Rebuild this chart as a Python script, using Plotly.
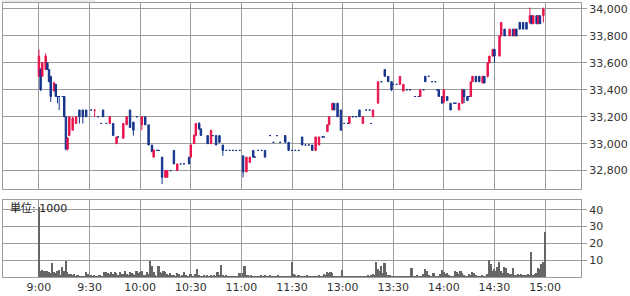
import plotly.graph_objects as go

# ---------------- data ----------------
# session minutes: 0 = 9:00, 150 = 11:30 / 12:30 (lunch removed), 300 = 15:00
tick_minutes = [0, 30, 60, 90, 120, 150, 180, 210, 240, 270, 300]
tick_labels = ["9:00", "9:30", "10:00", "10:30", "11:00", "11:30",
               "13:00", "13:30", "14:00", "14:30", "15:00"]
price_ticks = [32800, 33000, 33200, 33400, 33600, 33800, 34000]
volume_ticks = [10, 20, 30, 40]

candle_min = [
    0, 1, 2, 4, 5, 6, 7, 9, 10, 11,
    12, 15, 16, 17, 18, 20, 22, 24, 26, 28,
    33, 38, 42, 44, 46, 50, 52, 54, 56, 61,
    63, 65, 67, 68, 73, 75, 76, 80, 82, 89,
    90, 92, 93, 95, 96, 100, 102, 105, 107, 109,
    121, 123, 125, 127, 134, 146, 148, 156, 162, 164,
    166, 171, 172, 174, 175, 177, 179, 184, 190, 192,
    198, 201, 205, 207, 209, 214, 216, 226, 229, 237,
    239, 240, 242, 244, 249, 251, 252, 254, 256, 257,
    259, 261, 263, 264, 266, 267, 269, 270, 273, 274,
    276, 279, 281, 282, 283, 285, 287, 289, 291, 292,
    293, 295, 296, 297, 299]
candle_open = [
    33500, 33550, 33500, 33550, 33600, 33550, 33500, 33390, 33440, 33350,
    33350, 33350, 33200, 32960, 33060, 33100, 33150, 33250, 33250, 33250,
    33250, 33250, 33150, 33150, 33000, 33040, 33140, 33250, 33160, 33140,
    33200, 33140, 32990, 32900, 32900, 32750, 32750, 32950, 32800, 32900,
    32900, 33000, 33060, 33150, 33110, 33060, 33000, 33060, 33060, 32990,
    32910, 32790, 32860, 32950, 32950, 33060, 33010, 33050, 32990, 32950,
    32990, 33090, 33140, 33250, 33300, 33300, 33250, 33150, 33250, 33150,
    33200, 33300, 33550, 33500, 33460, 33440, 33390, 33350, 33500, 33400,
    33350, 33310, 33350, 33300, 33250, 33300, 33400, 33350, 33350, 33460,
    33500, 33500, 33450, 33500, 33500, 33600, 33650, 33700, 33650, 33800,
    33850, 33800, 33850, 33800, 33850, 33900, 33900, 33900, 33900, 33950,
    33890, 33950, 33890, 33950, 33950]
candle_high = [
    33700, 33560, 33600, 33670, 33600, 33550, 33500, 33460, 33440, 33350,
    33350, 33350, 33200, 33050, 33200, 33200, 33200, 33250, 33250, 33250,
    33250, 33250, 33200, 33150, 33050, 33150, 33200, 33250, 33160, 33200,
    33200, 33140, 32990, 32960, 32900, 32800, 32800, 32950, 32850, 32900,
    33000, 33070, 33150, 33160, 33110, 33060, 33100, 33060, 33060, 32990,
    32910, 32900, 32900, 32950, 32950, 33060, 33010, 33050, 32990, 33050,
    33050, 33140, 33200, 33300, 33300, 33300, 33250, 33200, 33250, 33200,
    33250, 33460, 33550, 33500, 33460, 33500, 33440, 33400, 33500, 33400,
    33350, 33400, 33350, 33300, 33300, 33400, 33400, 33350, 33460, 33500,
    33500, 33500, 33500, 33500, 33600, 33650, 33700, 33700, 33800, 33900,
    33850, 33850, 33850, 33850, 33850, 33900, 33900, 33900, 34010, 33950,
    33950, 33950, 33950, 33950, 34010]
candle_low = [
    33500, 33390, 33500, 33550, 33550, 33460, 33310, 33390, 33350, 33300,
    33250, 33200, 32950, 32950, 33060, 33100, 33150, 33150, 33150, 33200,
    33200, 33200, 33150, 33060, 33000, 33040, 33140, 33120, 33060, 33100,
    33140, 32990, 32940, 32900, 32700, 32750, 32750, 32850, 32800, 32850,
    32900, 33000, 33060, 33100, 33060, 33000, 33000, 32990, 33010, 32910,
    32750, 32790, 32860, 32900, 32900, 33010, 32950, 32990, 32950, 32950,
    32990, 33090, 33140, 33250, 33250, 33200, 33100, 33150, 33200, 33150,
    33200, 33300, 33500, 33460, 33390, 33440, 33390, 33350, 33460, 33350,
    33300, 33300, 33320, 33250, 33250, 33300, 33300, 33320, 33350, 33460,
    33460, 33460, 33450, 33450, 33490, 33600, 33650, 33600, 33650, 33800,
    33800, 33800, 33800, 33800, 33800, 33850, 33850, 33850, 33890, 33890,
    33890, 33890, 33890, 33890, 33900]
candle_close = [
    33650, 33400, 33600, 33650, 33550, 33460, 33350, 33450, 33350, 33350,
    33350, 33200, 32960, 33040, 33200, 33190, 33200, 33200, 33200, 33200,
    33250, 33200, 33200, 33060, 33050, 33150, 33200, 33120, 33100, 33200,
    33140, 32990, 32940, 32950, 32750, 32800, 32800, 32850, 32850, 32850,
    32990, 33060, 33150, 33110, 33060, 33000, 33100, 32990, 33010, 32950,
    32790, 32900, 32900, 32900, 32900, 33010, 32950, 32990, 32950, 33050,
    33050, 33140, 33200, 33300, 33250, 33200, 33100, 33200, 33200, 33200,
    33250, 33460, 33500, 33460, 33400, 33500, 33440, 33400, 33460, 33350,
    33300, 33400, 33320, 33250, 33300, 33400, 33350, 33320, 33460, 33500,
    33460, 33460, 33500, 33450, 33600, 33650, 33700, 33650, 33800, 33900,
    33800, 33850, 33800, 33850, 33800, 33850, 33850, 33850, 33950, 33890,
    33950, 33890, 33950, 33890, 34000]

# unchanged-price minutes (drawn as flat dashes)
doji_min = [
    14, 31, 35, 37, 40, 47, 58, 70, 71, 78,
    84, 86, 103, 111, 113, 115, 117, 119, 128, 130,
    132, 137, 139, 141, 143, 150, 152, 154, 158, 160,
    168, 169, 181, 183, 186, 188, 194, 196, 197, 203,
    210, 212, 218, 220, 223, 225, 228, 231, 233, 235,
    236, 246, 247, 255]
doji_price = [
    33350, 33250, 33200, 33150, 33150, 33050, 33200, 32950, 32950, 32800,
    32850, 32850, 33060, 32950, 32950, 32950, 32950, 32950, 32900, 32950,
    32950, 33060, 33010, 33060, 33010, 32950, 32950, 32950, 32990, 32990,
    33050, 33050, 33150, 33150, 33200, 33200, 33250, 33250, 33150, 33460,
    33440, 33440, 33400, 33400, 33350, 33350, 33400, 33500, 33460, 33460,
    33400, 33300, 33300, 33350]

# volume (unit: 1000), one value per minute 0..300
volume = [
    42, 4, 4.5, 4, 4, 3.5, 3, 2.5, 8.5, 3,
    2.5, 4, 4.5, 1.5, 6, 4, 9.5, 3, 2, 2,
    1.5, 2, 1, 1.5, 0.8, 0.5, 0.3, 0.5, 3, 2,
    1, 1.5, 1, 1.5, 1, 0.8, 1.2, 1, 0.5, 3,
    3, 2.5, 2, 3, 2, 3, 2.5, 1.5, 3, 2,
    2, 3.5, 2, 1.5, 3, 2.5, 2, 1.5, 3.5, 2.5,
    3, 4, 1.5, 1.5, 3, 2, 9.5, 7, 3, 1.5,
    1, 6.5, 3, 2.5, 3.5, 3, 2, 1.5, 2.5, 1.5,
    1.5, 1, 2.5, 2, 1, 1.5, 3, 1.5, 1, 0.5,
    2, 1, 1, 2, 5, 1.5, 1, 1, 1.5, 1,
    1.5, 1, 1.5, 1, 1.5, 1, 3, 1.5, 7.5, 1.5,
    1, 1.5, 1, 0.5, 0.5, 0.5, 0.5, 1, 1, 2.5,
    1, 2.5, 7, 1.5, 1.5, 1, 1.5, 0.5, 0.5, 0.5,
    0.5, 1, 1.5, 1, 1.5, 1, 1, 1.5, 1, 0.5,
    0.5, 1, 1.5, 1, 0.5, 1, 1, 0.5, 1, 1,
    9, 2, 1.5, 1, 1.5, 0.5, 1, 0.5, 1, 1.5,
    1, 0.5, 1, 1, 0.5, 1, 1.5, 1, 1, 2,
    1.5, 3, 2.5, 3, 2.5, 1, 0.5, 1, 1, 0.5,
    4.5, 1, 1, 0.5, 1, 0.5, 1, 0.5, 0.5, 1,
    1, 0.5, 1, 1, 0.5, 1.5, 1, 1.5, 2, 1.5,
    9, 5, 4, 6.5, 2.5, 8.5, 3, 1.5, 1.5, 1,
    1, 0.5, 1, 1, 0.5, 1, 0.5, 1, 1, 0.5,
    1, 5.5, 1, 1, 1.5, 1, 0.5, 1, 2, 5,
    3.5, 1.5, 1, 1, 2.5, 1, 1, 1, 2, 4.5,
    3, 2, 2.5, 1.5, 1, 1, 1, 3.5, 3, 2,
    3.5, 2.5, 1.5, 1, 1, 2, 1.5, 3, 2.5, 1.5,
    1, 1, 1, 1.5, 1, 0.5, 2, 10, 8, 4,
    5, 3.5, 6, 9, 4, 2.5, 6, 5.5, 2.5, 2,
    2, 5.5, 1.5, 1.5, 2, 1.5, 2, 1.5, 1.5, 1.5,
    2, 1.5, 15, 1.5, 2, 2.5, 5.5, 5, 8, 9,
    27]
volume_min = list(range(len(volume)))

# ---------------- style ----------------
RED = "#E8134B"
BLUE = "#14348C"
GRID = "#9c9c9c"
FONT = "DejaVu Sans, Noto Sans CJK JP, sans-serif"
X_RANGE = [-21.3, 321.3]

fig = go.Figure()

fig.add_trace(go.Candlestick(
    x=candle_min, open=candle_open, high=candle_high, low=candle_low, close=candle_close,
    xaxis="x", yaxis="y", whiskerwidth=0,
    increasing=dict(line=dict(color=RED, width=1), fillcolor=RED),
    decreasing=dict(line=dict(color=BLUE, width=1), fillcolor=BLUE),
    showlegend=False, hoverinfo="skip"))

fig.add_trace(go.Candlestick(
    x=doji_min, open=doji_price, high=doji_price, low=doji_price, close=doji_price,
    xaxis="x", yaxis="y", whiskerwidth=0,
    increasing=dict(line=dict(color=BLUE, width=1), fillcolor=BLUE),
    decreasing=dict(line=dict(color=BLUE, width=1), fillcolor=BLUE),
    showlegend=False, hoverinfo="skip"))

fig.add_trace(go.Bar(
    x=volume_min, y=volume, xaxis="x2", yaxis="y2", width=1,
    marker=dict(color="#666666", line=dict(width=0)),
    showlegend=False, hoverinfo="skip"))

axis_common = dict(showline=True, mirror=True, linecolor=GRID, linewidth=1,
                   showgrid=True, gridcolor=GRID, gridwidth=1, zeroline=False)

fig.update_layout(
    width=630, height=296,
    margin=dict(l=2, r=48, t=2, b=14),
    paper_bgcolor="white", plot_bgcolor="white",
    font=dict(family=FONT, size=11, color="#333333"),
    boxgap=0.15, boxgroupgap=0, bargap=0,
    xaxis=dict(domain=[0, 1], anchor="y", range=X_RANGE, tickvals=tick_minutes,
               showticklabels=False, ticks="", rangeslider=dict(visible=False),
               **axis_common),
    yaxis=dict(domain=[0.3214, 1], anchor="x", side="right", range=[32664, 34044],
               tickvals=price_ticks, tickformat=",d", ticks="outside", ticklen=5,
               tickcolor=GRID, **axis_common),
    xaxis2=dict(domain=[0, 1], anchor="y2", range=X_RANGE, tickvals=tick_minutes,
                ticktext=tick_labels, ticks="", **axis_common),
    yaxis2=dict(domain=[0, 0.2821], anchor="x2", side="right", range=[0, 46],
                tickvals=volume_ticks, ticks="outside", ticklen=5, tickcolor=GRID,
                **axis_common),
    annotations=[dict(text="単位: 1000", xref="paper", yref="paper",
                      x=0.0086, y=0.2536, xanchor="left", yanchor="middle",
                      showarrow=False, font=dict(family=FONT, size=11, color="#222222"))],
    shapes=[dict(type="line", xref="paper", yref="paper", x0=-0.0035, x1=0.16,
                 y0=1.0071, y1=1.0071, line=dict(color="#d8d8d8", width=1))],
)

fig.write_html("out.html")
